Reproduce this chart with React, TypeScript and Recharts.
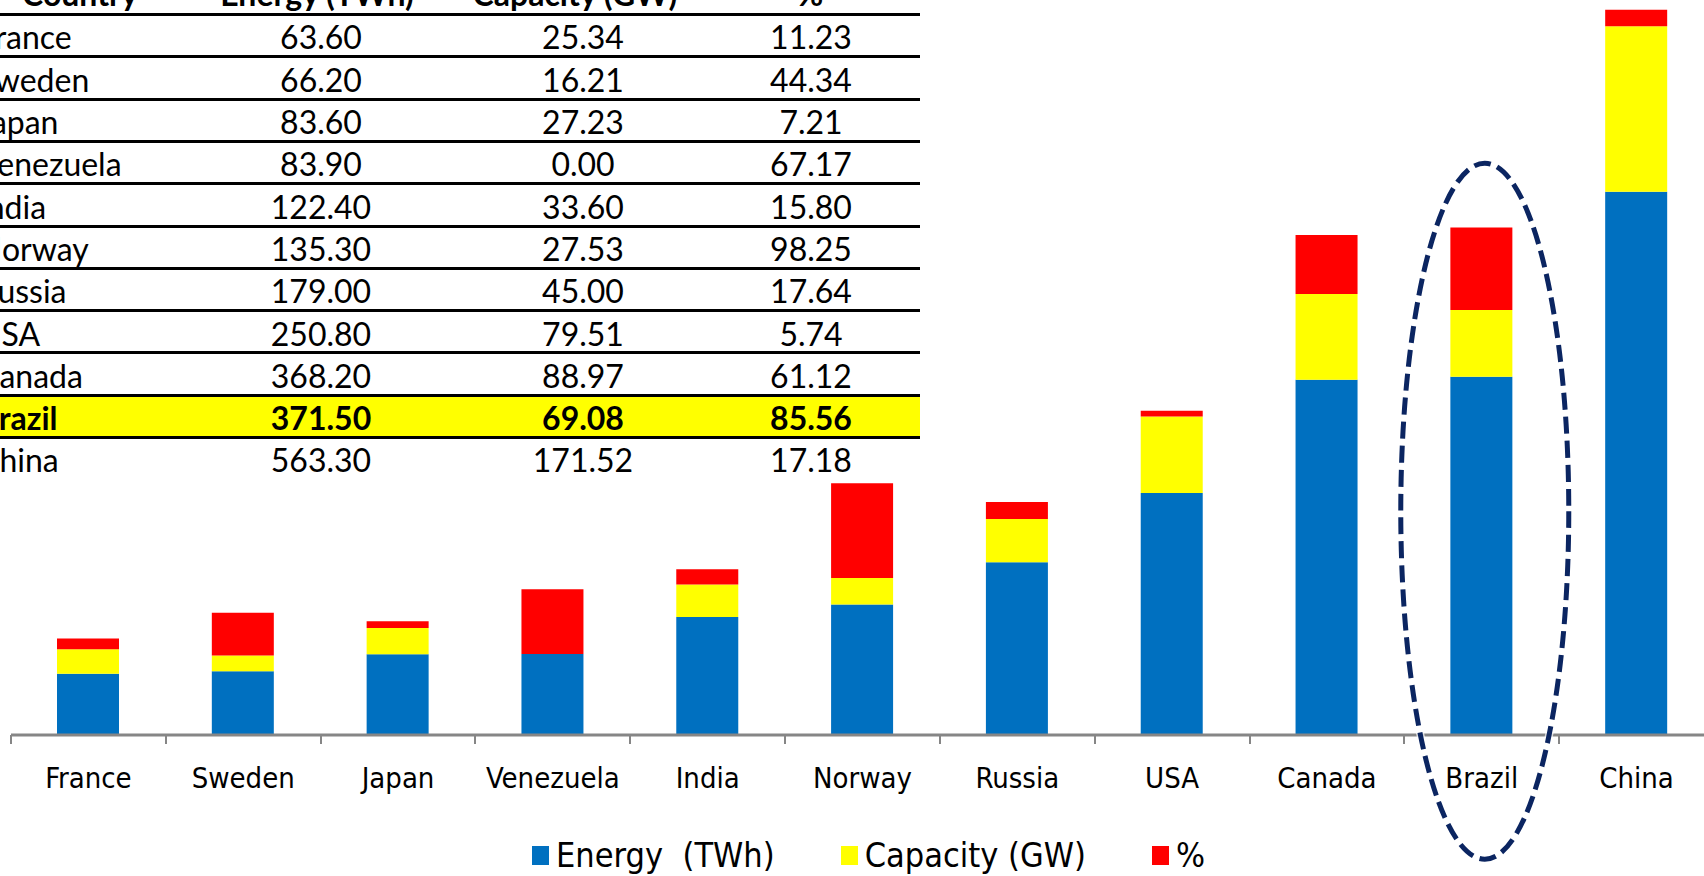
import React from "react";
import { Bar, BarChart, Legend, ReferenceDot, XAxis, YAxis } from "recharts";

// Hydropower by country: energy, installed capacity and share of the national mix
const countries = ["France", "Sweden", "Japan", "Venezuela", "India", "Norway", "Russia", "USA", "Canada", "Brazil", "China"];
const energyTWh = [63.6, 66.2, 83.6, 83.9, 122.4, 135.3, 179.0, 250.8, 368.2, 371.5, 563.3];
const capacityGW = [25.34, 16.21, 27.23, 0.0, 33.6, 27.53, 45.0, 79.51, 88.97, 69.08, 171.52];
const sharePct = [11.23, 44.34, 7.21, 67.17, 15.8, 98.25, 17.64, 5.74, 61.12, 85.56, 17.18];

const seriesKeys = ["energy", "capacity", "pct"];
const seriesNames = ["Energy  (TWh)", "Capacity (GW)", "%"];
const seriesColors = ["#0070C0", "#FFFF00", "#FF0000"];
const tableHeaders = ["Country", "Energy (TWh)", "Capacity (GW)", "%"];

const highlighted = "Brazil";
const ringCenterValue = 232; // level the dashed ring around the highlighted bar is centred on

const W = 1704;
const H = 876;
const CHART_W = 1720;
const MARGIN = { top: 0, right: 6, left: 11, bottom: 0 };
const AXIS_H = 141;
const BAND = (CHART_W - MARGIN.left - MARGIN.right) / countries.length;

const LABEL_FONT = "'DejaVu Sans Condensed', 'DejaVu Sans', sans-serif";
const TABLE_FONT = "Lato, 'Open Sans', sans-serif";

const data = countries.map((country, i) => ({
  country,
  energy: energyTWh[i],
  capacity: capacityGW[i],
  pct: sharePct[i],
}));

function CountryTick(props: any) {
  const { x, y, payload } = props;
  const left = Math.round(x - BAND / 2);
  return (
    <g>
      <line x1={left} x2={left} y1={y} y2={y + 9} stroke="#868686" strokeWidth={2} />
      <text
        x={x}
        y={y + 43}
        textAnchor="middle"
        dominantBaseline="central"
        fontSize={29}
        fontFamily={LABEL_FONT}
        fontStretch="condensed"
        fill="#000"
      >
        {payload.value}
      </text>
    </g>
  );
}

function Ring(props: any) {
  const { cx, cy } = props;
  return (
    <g>
      <ellipse cx={cx + 3} cy={cy} rx={84} ry={348} fill="none" stroke="#ffffff" strokeOpacity={0.7} strokeWidth={8} />
      <ellipse
        cx={cx + 3}
        cy={cy}
        rx={84}
        ry={348}
        fill="none"
        stroke="#0B2561"
        strokeWidth={5}
        strokeDasharray="17 7"
      />
    </g>
  );
}

function LegendRow() {
  return (
    <div style={{ display: "flex", alignItems: "center", height: 42 }}>
      {seriesNames.map((name, i) => (
        <div key={name} style={{ display: "flex", alignItems: "center", marginRight: 66 }}>
          <span style={{ width: 17, height: 19, background: seriesColors[i], display: "inline-block" }} />
          <span
            style={{
              marginLeft: 7,
              fontSize: 34,
              fontFamily: LABEL_FONT,
              fontStretch: "condensed",
              whiteSpace: "pre",
              color: "#000",
              lineHeight: "42px",
            }}
          >
            {name}
          </span>
        </div>
      ))}
    </div>
  );
}

// table geometry
const ROW_H = 42.3;
const FIRST_LINE = 14;
const BASE_OFF = 28.4; // baseline offset inside a 32px line box
const colCenters = [0, 321, 583, 811];
const TABLE_RIGHT = 920;

function Cell({ text, x, baseline, bold, left }: { text: string; x: number; baseline: number; bold?: boolean; left?: boolean }) {
  const style: React.CSSProperties = {
    position: "absolute",
    top: baseline - BASE_OFF,
    fontSize: 32,
    lineHeight: "32px",
    fontFamily: TABLE_FONT,
    fontWeight: bold ? 700 : 400,
    color: "#000",
    whiteSpace: "pre",
  };
  if (left) return <div style={{ ...style, left: x }}>{text}</div>;
  return <div style={{ ...style, left: x - 120, width: 240, textAlign: "center" }}>{text}</div>;
}

function DataTable() {
  const lines = countries.map((_, i) => Math.round(FIRST_LINE + ROW_H * i));
  const hi = countries.indexOf(highlighted);
  return (
    <div style={{ position: "absolute", left: 0, top: 0, width: TABLE_RIGHT, height: 500, overflow: "hidden", pointerEvents: "none" }}>
      <div
        style={{
          position: "absolute",
          left: 0,
          width: TABLE_RIGHT,
          top: Math.round(FIRST_LINE + ROW_H * hi),
          height: Math.round(ROW_H),
          background: "#FFFF00",
        }}
      />
      {lines.map((y, i) => (
        <div key={i} style={{ position: "absolute", left: 0, width: TABLE_RIGHT, top: y - 1, height: 3, background: "#000" }} />
      ))}
      <Cell text={tableHeaders[0]} x={80} baseline={6.5} bold />
      <Cell text={tableHeaders[1]} x={317} baseline={6.5} bold />
      <Cell text={tableHeaders[2]} x={575} baseline={6.5} bold />
      <Cell text={tableHeaders[3]} x={810} baseline={6.5} bold />
      {countries.map((c, i) => {
        const base = FIRST_LINE + ROW_H * (i + 1) - 6.5;
        const bold = c === highlighted;
        return (
          <React.Fragment key={c}>
            <Cell text={c} x={-22} baseline={base} bold={bold} left />
            <Cell text={energyTWh[i].toFixed(2)} x={colCenters[1]} baseline={base} bold={bold} />
            <Cell text={capacityGW[i].toFixed(2)} x={colCenters[2]} baseline={base} bold={bold} />
            <Cell text={sharePct[i].toFixed(2)} x={colCenters[3]} baseline={base} bold={bold} />
          </React.Fragment>
        );
      })}
    </div>
  );
}

export default function App() {
  return (
    <div style={{ position: "absolute", left: 0, top: 0, width: W, height: H, overflow: "hidden", background: "#fff" }}>
      <BarChart width={CHART_W} height={H} data={data} margin={MARGIN} barSize={62}>
        <YAxis hide domain={[0, 762]} />
        <XAxis
          dataKey="country"
          height={AXIS_H}
          interval={0}
          axisLine={{ stroke: "#868686", strokeWidth: 3 }}
          tickLine={false}
          tickSize={0}
          tickMargin={0}
          tick={(p: any) => <CountryTick {...p} />}
        />
        {seriesKeys.map((k, i) => (
          <Bar key={k} dataKey={k} name={seriesNames[i]} stackId="a" fill={seriesColors[i]} isAnimationActive={false} />
        ))}
        <ReferenceDot x={highlighted} y={ringCenterValue} ifOverflow="visible" shape={(p: any) => <Ring {...p} />} />
        <Legend
          verticalAlign="middle"
          align="center"
          layout="horizontal"
          wrapperStyle={{ top: 834, left: 532, width: 760, height: 42 }}
          content={() => <LegendRow />}
        />
      </BarChart>
      <DataTable />
    </div>
  );
}
